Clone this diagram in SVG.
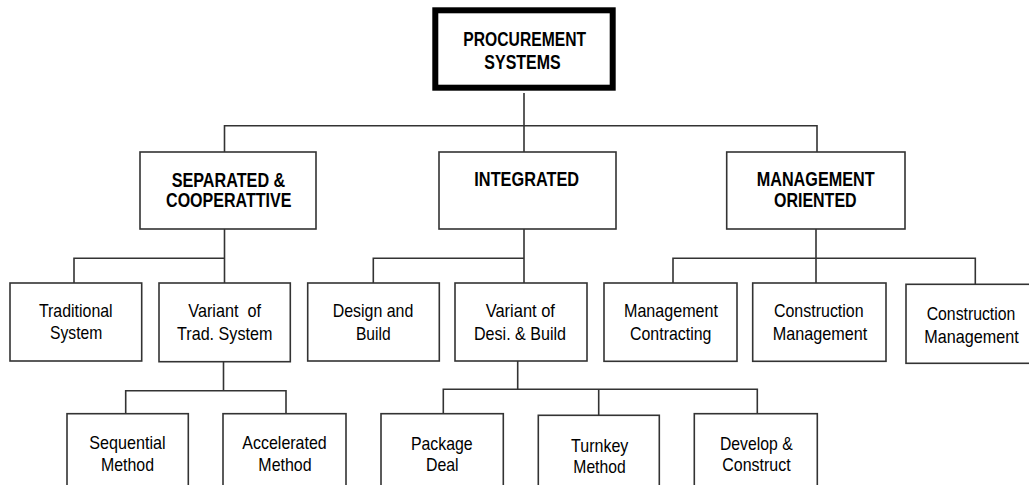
<svg xmlns="http://www.w3.org/2000/svg" width="1029" height="485" viewBox="0 0 1029 485">
<style>
.bg{fill:#fff}
.box{fill:#fff;stroke:#333;stroke-width:1.6}
.root{fill:#fff;stroke:#000;stroke-width:6}
.conn{fill:none;stroke:#333;stroke-width:1.6}
text{font-family:"Liberation Sans Narrow","Liberation Sans",Arial,sans-serif;fill:#000;text-anchor:middle}
.b{font-weight:bold;font-size:19.5px}
.r{font-size:18.5px}
</style>
<rect class="bg" x="0" y="0" width="1029" height="485"/>
<g id="connectors">
<path class="conn" d="M524,93 V152 M224.5,152 V125.7 H817 V152"/>
<path class="conn" d="M224.5,229 V258.3 M74,283 V258.3 H224.5 V283"/>
<path class="conn" d="M524,229 V283 M373.3,283 V258.3 H524"/>
<path class="conn" d="M816,229 V283 M673,283 V258.3 H975.3 V284.3"/>
<path class="conn" d="M223.5,361.7 V390.7 M125.7,413.7 V390.7 H286 V413.7"/>
<path class="conn" d="M517.7,361 V389.3 M443.3,413.7 V389.3 H757.3 V413.7 M598.7,389.3 V415.3"/>
</g>
<g id="procurement-systems">
<rect class="root" x="435.3" y="10.3" width="177.4" height="77.4"/>
<text class="b" x="524.7" y="46" textLength="122.7" lengthAdjust="spacingAndGlyphs">PROCUREMENT</text>
<text class="b" x="522.5" y="69.3" textLength="76.3" lengthAdjust="spacingAndGlyphs">SYSTEMS</text>
</g>
<g id="separated">
<rect class="box" x="140" y="152" width="176" height="77"/>
<text class="b" x="228.5" y="186.7" textLength="113.6" lengthAdjust="spacingAndGlyphs">SEPARATED &amp;</text>
<text class="b" x="228.7" y="206.7" textLength="125.3" lengthAdjust="spacingAndGlyphs">COOPERATTIVE</text>
</g>
<g id="integrated">
<rect class="box" x="439" y="152" width="177" height="77"/>
<text class="b" x="526.7" y="185.7" textLength="104.7" lengthAdjust="spacingAndGlyphs">INTEGRATED</text>
</g>
<g id="management-oriented">
<rect class="box" x="726.7" y="152" width="178.3" height="77"/>
<text class="b" x="815.7" y="186" textLength="118" lengthAdjust="spacingAndGlyphs">MANAGEMENT</text>
<text class="b" x="815.3" y="207.3" textLength="82.7" lengthAdjust="spacingAndGlyphs">ORIENTED</text>
</g>
<g id="traditional-system">
<rect class="box" x="10" y="283" width="131.7" height="78"/>
<text class="r" x="75.8" y="316.7" textLength="73.7" lengthAdjust="spacingAndGlyphs">Traditional</text>
<text class="r" x="76.2" y="339.3" textLength="52.3" lengthAdjust="spacingAndGlyphs">System</text>
</g>
<g id="variant-trad">
<rect class="box" x="159" y="283" width="131.3" height="78.7"/>
<text class="r" x="224.7" y="317.3" textLength="72.7" lengthAdjust="spacingAndGlyphs" xml:space="preserve">Variant  of</text>
<text class="r" x="224.7" y="340" textLength="95.3" lengthAdjust="spacingAndGlyphs">Trad. System</text>
</g>
<g id="design-build">
<rect class="box" x="307.7" y="283" width="131.6" height="78"/>
<text class="r" x="373" y="317" textLength="80.7" lengthAdjust="spacingAndGlyphs">Design and</text>
<text class="r" x="373.3" y="340" textLength="34.7" lengthAdjust="spacingAndGlyphs">Build</text>
</g>
<g id="variant-desi">
<rect class="box" x="455" y="283" width="132" height="78"/>
<text class="r" x="520.3" y="317" textLength="69.3" lengthAdjust="spacingAndGlyphs">Variant of</text>
<text class="r" x="520" y="340" textLength="92" lengthAdjust="spacingAndGlyphs">Desi. &amp; Build</text>
</g>
<g id="management-contracting">
<rect class="box" x="604" y="283" width="133" height="78.3"/>
<text class="r" x="671" y="316.7" textLength="94" lengthAdjust="spacingAndGlyphs">Management</text>
<text class="r" x="670.7" y="340" textLength="81.3" lengthAdjust="spacingAndGlyphs">Contracting</text>
</g>
<g id="construction-management-1">
<rect class="box" x="752.7" y="283" width="133.3" height="78.3"/>
<text class="r" x="818.8" y="316.7" textLength="89.7" lengthAdjust="spacingAndGlyphs">Construction</text>
<text class="r" x="820" y="340" textLength="94.6" lengthAdjust="spacingAndGlyphs">Management</text>
</g>
<g id="construction-management-2">
<rect class="box" x="906" y="284.3" width="134" height="79"/>
<text class="r" x="971" y="320" textLength="88.7" lengthAdjust="spacingAndGlyphs">Construction</text>
<text class="r" x="971.5" y="343" textLength="94.4" lengthAdjust="spacingAndGlyphs">Management</text>
</g>
<g id="sequential-method">
<rect class="box" x="67" y="413.7" width="121.3" height="90"/>
<text class="r" x="127.5" y="449.3" textLength="76.3" lengthAdjust="spacingAndGlyphs">Sequential</text>
<text class="r" x="127.5" y="470.7" textLength="53" lengthAdjust="spacingAndGlyphs">Method</text>
</g>
<g id="accelerated-method">
<rect class="box" x="223" y="413.7" width="123" height="90"/>
<text class="r" x="284.5" y="449.3" textLength="84.3" lengthAdjust="spacingAndGlyphs">Accelerated</text>
<text class="r" x="285" y="470.7" textLength="53.3" lengthAdjust="spacingAndGlyphs">Method</text>
</g>
<g id="package-deal">
<rect class="box" x="381" y="413.7" width="122.3" height="90"/>
<text class="r" x="441.8" y="450" textLength="61.7" lengthAdjust="spacingAndGlyphs">Package</text>
<text class="r" x="442.3" y="471" textLength="32.7" lengthAdjust="spacingAndGlyphs">Deal</text>
</g>
<g id="turnkey-method">
<rect class="box" x="538.3" y="415.3" width="121" height="90"/>
<text class="r" x="599.7" y="451.7" textLength="57.3" lengthAdjust="spacingAndGlyphs">Turnkey</text>
<text class="r" x="599.5" y="472.7" textLength="52.3" lengthAdjust="spacingAndGlyphs">Method</text>
</g>
<g id="develop-construct">
<rect class="box" x="694.3" y="413.7" width="123" height="90"/>
<text class="r" x="756.3" y="450" textLength="72.7" lengthAdjust="spacingAndGlyphs">Develop &amp;</text>
<text class="r" x="756.5" y="471" textLength="68.3" lengthAdjust="spacingAndGlyphs">Construct</text>
</g>
</svg>
